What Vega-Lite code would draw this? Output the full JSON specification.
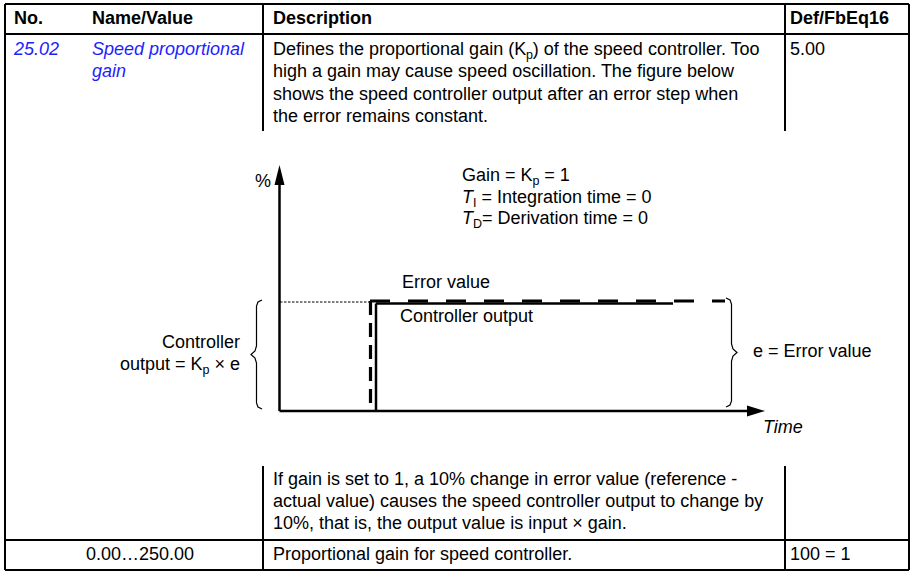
{
  "$schema": "https://vega.github.io/schema/vega-lite/v6.json",
  "width": 914,
  "height": 573,
  "autosize": {"type": "fit", "contains": "padding"},
  "padding": 0,
  "background": "white",
  "config": {
    "view": {"stroke": null},
    "text": {"font": "Liberation Sans", "fontSize": 18, "baseline": "middle", "align": "left", "color": "black"}
  },
  "datasets": {
    "tableLines": [
      {"x": 5, "y": 4, "x2": 909, "y2": 4},
      {"x": 5, "y": 570, "x2": 909, "y2": 570},
      {"x": 5, "y": 4, "x2": 5, "y2": 570},
      {"x": 909, "y": 4, "x2": 909, "y2": 570},
      {"x": 5, "y": 34, "x2": 909, "y2": 34},
      {"x": 263, "y": 4, "x2": 263, "y2": 131},
      {"x": 785, "y": 4, "x2": 785, "y2": 131},
      {"x": 263, "y": 466, "x2": 263, "y2": 570},
      {"x": 785, "y": 466, "x2": 785, "y2": 570},
      {"x": 5, "y": 540, "x2": 909, "y2": 540}
    ],
    "axes": [
      {"x": 279.5, "y": 411, "x2": 279.5, "y2": 180},
      {"x": 279.5, "y": 411, "x2": 750, "y2": 411}
    ],
    "yArrow": [{"x": 279.5, "y": 175}],
    "xArrow": [{"x": 756, "y": 411}],
    "errH": [{"x": 370, "y": 301, "x2": 725, "y2": 301}],
    "errV": [{"x": 370.5, "y": 301, "x2": 370.5, "y2": 411}],
    "ctrl": [
      {"x": 376, "y": 411, "x2": 376, "y2": 303.5},
      {"x": 376, "y": 303.5, "x2": 673, "y2": 303.5}
    ],
    "dotted": [{"x": 280, "y": 302, "x2": 369, "y2": 302}],
    "braces": [
      {"b": "L", "i": 0, "x": 262, "y": 300},
      {"b": "L", "i": 1, "x": 258, "y": 302},
      {"b": "L", "i": 2, "x": 256.5, "y": 306},
      {"b": "L", "i": 3, "x": 256.5, "y": 346},
      {"b": "L", "i": 4, "x": 255, "y": 351},
      {"b": "L", "i": 5, "x": 251, "y": 354.5},
      {"b": "L", "i": 6, "x": 255, "y": 358},
      {"b": "L", "i": 7, "x": 256.5, "y": 363},
      {"b": "L", "i": 8, "x": 256.5, "y": 403},
      {"b": "L", "i": 9, "x": 258, "y": 407},
      {"b": "L", "i": 10, "x": 262, "y": 409},
      {"b": "R", "i": 0, "x": 726, "y": 298},
      {"b": "R", "i": 1, "x": 730, "y": 300},
      {"b": "R", "i": 2, "x": 731.5, "y": 304},
      {"b": "R", "i": 3, "x": 731.5, "y": 344},
      {"b": "R", "i": 4, "x": 733, "y": 349},
      {"b": "R", "i": 5, "x": 737, "y": 352.5},
      {"b": "R", "i": 6, "x": 733, "y": 356},
      {"b": "R", "i": 7, "x": 731.5, "y": 361},
      {"b": "R", "i": 8, "x": 731.5, "y": 401},
      {"b": "R", "i": 9, "x": 730, "y": 405},
      {"b": "R", "i": 10, "x": 726, "y": 407}
    ],
    "header": [
      {"x": 14, "y": 19, "t": "No."},
      {"x": 92, "y": 19, "t": "Name/Value"},
      {"x": 273, "y": 19, "t": "Description"},
      {"x": 790, "y": 19, "t": "Def/FbEq16"}
    ],
    "blue": [
      {"x": 14, "y": 50, "t": "25.02"},
      {"x": 92, "y": 50, "t": "Speed proportional"},
      {"x": 92, "y": 72, "t": "gain"}
    ],
    "plain": [
      {"x": 273, "y": 50, "t": "Defines the proportional gain (K"},
      {"x": 532.8, "y": 50, "t": ") of the speed controller. Too"},
      {"x": 273, "y": 72, "t": "high a gain may cause speed oscillation. The figure below"},
      {"x": 273, "y": 95, "t": "shows the speed controller output after an error step when"},
      {"x": 273, "y": 117, "t": "the error remains constant."},
      {"x": 790, "y": 50, "t": "5.00"},
      {"x": 462, "y": 176, "t": "Gain = K"},
      {"x": 544.2, "y": 176, "t": "= 1"},
      {"x": 481.5, "y": 197.5, "t": "= Integration time = 0"},
      {"x": 482, "y": 219, "t": "= Derivation time = 0"},
      {"x": 402, "y": 283, "t": "Error value"},
      {"x": 400, "y": 317, "t": "Controller output"},
      {"x": 753, "y": 352, "t": "e = Error value"},
      {"x": 120, "y": 365, "t": "output = K"},
      {"x": 214.6, "y": 365, "t": "× e"},
      {"x": 273, "y": 480, "t": "If gain is set to 1, a 10% change in error value (reference -"},
      {"x": 273, "y": 502, "t": "actual value) causes the speed controller output to change by"},
      {"x": 273, "y": 524, "t": "10%, that is, the output value is input × gain."},
      {"x": 86, "y": 555, "t": "0.00…250.00"},
      {"x": 273, "y": 555, "t": "Proportional gain for speed controller."},
      {"x": 790, "y": 555, "t": "100 = 1"}
    ],
    "right": [
      {"x": 240, "y": 343, "t": "Controller"},
      {"x": 271, "y": 182, "t": "%"}
    ],
    "ital": [
      {"x": 462, "y": 197.5, "t": "T"},
      {"x": 462, "y": 219, "t": "T"},
      {"x": 763, "y": 428, "t": "Time"}
    ],
    "subs": [
      {"x": 526.1, "y": 55, "t": "p"},
      {"x": 532.5, "y": 181, "t": "p"},
      {"x": 473, "y": 202.5, "t": "I"},
      {"x": 473, "y": 224, "t": "D"},
      {"x": 202.6, "y": 370, "t": "p"}
    ]
  },
  "encoding": {
    "x": {"field": "x", "type": "quantitative", "scale": {"domain": [0, 914], "nice": false, "zero": false}, "axis": null},
    "y": {"field": "y", "type": "quantitative", "scale": {"domain": [0, 573], "reverse": true, "nice": false, "zero": false}, "axis": null}
  },
  "layer": [
    {
      "data": {"name": "tableLines"},
      "mark": {"type": "rule", "strokeWidth": 2, "color": "black"},
      "encoding": {"x2": {"field": "x2"}, "y2": {"field": "y2"}}
    },
    {
      "data": {"name": "axes"},
      "mark": {"type": "rule", "strokeWidth": 2.5, "color": "black"},
      "encoding": {"x2": {"field": "x2"}, "y2": {"field": "y2"}}
    },
    {
      "data": {"name": "yArrow"},
      "mark": {"type": "point", "shape": "M0,-1L0.5,1L-0.5,1Z", "size": 400, "filled": true, "color": "black", "opacity": 1, "strokeWidth": 0}
    },
    {
      "data": {"name": "xArrow"},
      "mark": {"type": "point", "shape": "M1,0L-1,0.6L-1,-0.6Z", "size": 324, "filled": true, "color": "black", "opacity": 1, "strokeWidth": 0}
    },
    {
      "data": {"name": "dotted"},
      "mark": {"type": "rule", "strokeWidth": 1.2, "color": "black", "strokeDash": [2.5, 1.5]},
      "encoding": {"x2": {"field": "x2"}, "y2": {"field": "y2"}}
    },
    {
      "data": {"name": "ctrl"},
      "mark": {"type": "rule", "strokeWidth": 2.5, "color": "black"},
      "encoding": {"x2": {"field": "x2"}, "y2": {"field": "y2"}}
    },
    {
      "data": {"name": "errH"},
      "mark": {"type": "rule", "strokeWidth": 3.2, "color": "black", "strokeDash": [20, 18]},
      "encoding": {"x2": {"field": "x2"}, "y2": {"field": "y2"}}
    },
    {
      "data": {"name": "errV"},
      "mark": {"type": "rule", "strokeWidth": 3.2, "color": "black", "strokeDash": [14, 8]},
      "encoding": {"x2": {"field": "x2"}, "y2": {"field": "y2"}}
    },
    {
      "data": {"name": "braces"},
      "mark": {"type": "line", "strokeWidth": 1.2, "color": "black", "interpolate": "linear"},
      "encoding": {"detail": {"field": "b"}, "order": {"field": "i", "type": "quantitative"}}
    },
    {
      "data": {"name": "header"},
      "mark": {"type": "text", "fontWeight": "bold"},
      "encoding": {"text": {"field": "t"}}
    },
    {
      "data": {"name": "blue"},
      "mark": {"type": "text", "fontStyle": "italic", "color": "#1e1eff"},
      "encoding": {"text": {"field": "t"}}
    },
    {
      "data": {"name": "plain"},
      "mark": {"type": "text"},
      "encoding": {"text": {"field": "t"}}
    },
    {
      "data": {"name": "right"},
      "mark": {"type": "text", "align": "right"},
      "encoding": {"text": {"field": "t"}}
    },
    {
      "data": {"name": "ital"},
      "mark": {"type": "text", "fontStyle": "italic"},
      "encoding": {"text": {"field": "t"}}
    },
    {
      "data": {"name": "subs"},
      "mark": {"type": "text", "fontSize": 12.5},
      "encoding": {"text": {"field": "t"}}
    }
  ]
}
